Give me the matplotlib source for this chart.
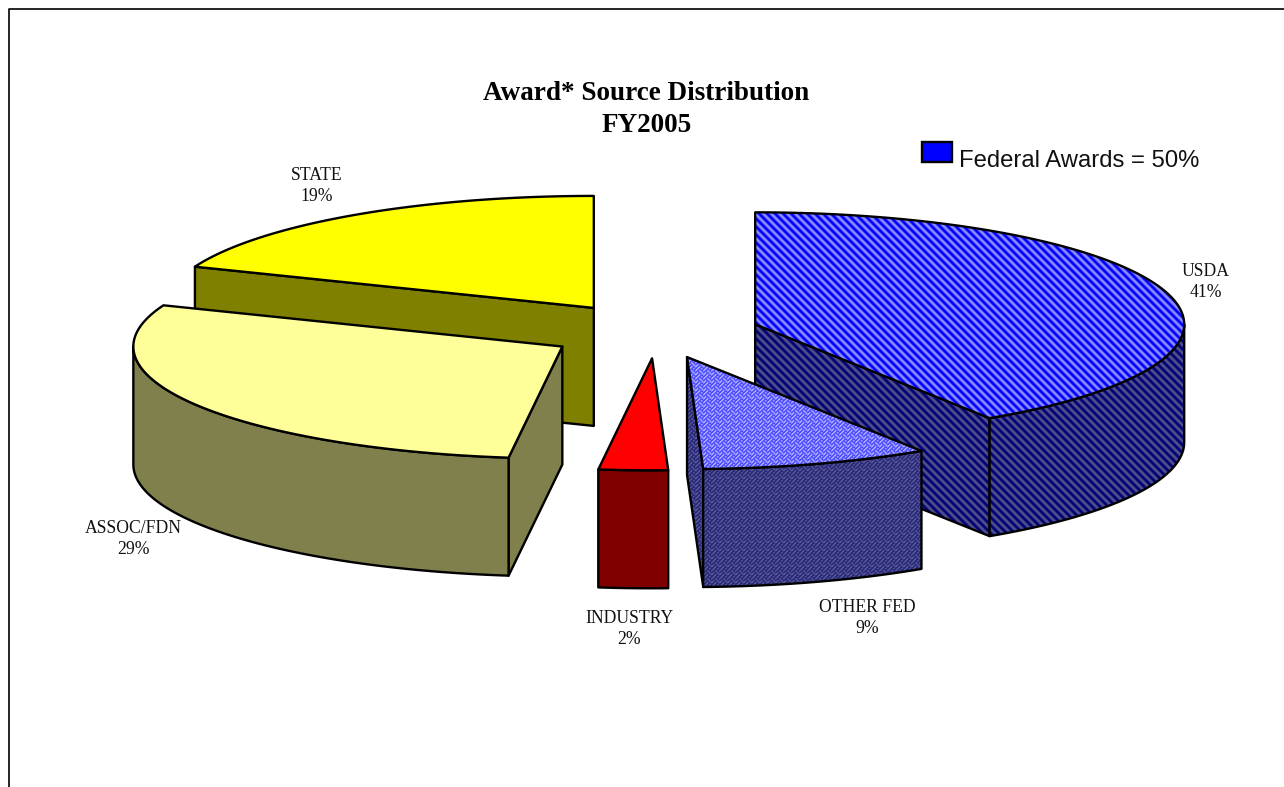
import numpy as np
import matplotlib
matplotlib.use("Agg")
import matplotlib.pyplot as plt
from matplotlib.patches import Polygon, Rectangle

# ---- data ----
categories = ["USDA", "OTHER FED", "INDUSTRY", "ASSOC/FDN", "STATE"]
shares = [40.8, 8.6, 2.6, 29.0, 19.0]
percent_labels = [41, 9, 2, 29, 19]
title_lines = ["Award* Source Distribution", "FY2005"]
legend_text = "Federal Awards = 50%"

# ---- geometry / style ----
W, H = 1284, 787
CX, CY, RX, RY, DEPTH = 656.5, 332.0, 429.0, 112.0, 118.0
EXPLODE = [0.24, 0.235, 0.235, 0.255, 0.26]
LW = 1.7
DRAW_ORDER = [4, 3, 0, 1, 2]
LABEL_XY = [(1206, 282), (867, 618), (629, 629), (133, 539), (317, 186)]
BIT_WEAVE = [0x11, 0x2a, 0x44, 0xa2, 0x11, 0x28, 0x44, 0x8a]


def stripe_mask():
    yy, xx = np.mgrid[0:H, 0:W]
    return ((xx - yy) % 8) < 4


def weave_mask():
    rows = np.array([[(b >> (7 - i)) & 1 for i in range(8)] for b in BIT_WEAVE], bool)
    return np.tile(rows, (H // 8 + 1, W // 8 + 1))[:H, :W]


def texture(mask, fg, bg):
    img = np.zeros((H, W, 3))
    img[mask] = np.array(fg) / 255
    img[~mask] = np.array(bg) / 255
    # the source image is slightly soft: light neighbour averaging
    soft = (2 * img + np.roll(img, 1, 0) + np.roll(img, 1, 1)) / 4
    return soft


STRIPE, WEAVE = stripe_mask(), weave_mask()
FILL = {
    "USDA": (texture(STRIPE, (0, 0, 255), (140, 140, 255)),
             texture(STRIPE, (0, 0, 115), (80, 80, 140))),
    "OTHER FED": (texture(WEAVE, (0, 0, 255), (165, 165, 255)),
                  texture(WEAVE, (0, 0, 115), (85, 85, 140))),
    "INDUSTRY": ("#ff0000", "#800000"),
    "ASSOC/FDN": ("#ffff99", "#80804d"),
    "STATE": ("#ffff00", "#808000"),
}

fig = plt.figure(figsize=(W / 100, H / 100), dpi=100, facecolor="white")
ax = fig.add_axes([0, 0, 1, 1])
ax.set_xlim(0, W)
ax.set_ylim(H, 0)
ax.axis("off")

z = [10]


def face(points, fill):
    z[0] += 1
    if isinstance(fill, str):
        ax.add_patch(Polygon(points, closed=True, facecolor=fill, edgecolor="black",
                             linewidth=LW, joinstyle="round", zorder=z[0]))
    else:
        clip = Polygon(points, closed=True, facecolor="none", edgecolor="none",
                       transform=ax.transData)
        ax.add_patch(clip)
        im = ax.imshow(fill, extent=(0, W, H, 0), interpolation="nearest",
                       aspect="auto", zorder=z[0])
        im.set_clip_path(clip)
        z[0] += 1
        ax.add_patch(Polygon(points, closed=True, facecolor="none", edgecolor="black",
                             linewidth=LW, joinstyle="round", zorder=z[0]))


def ell(theta, ax0, ay0):
    return ax0 + RX * np.sin(theta), ay0 - RY * np.cos(theta)


edges = np.radians(np.concatenate([[0], np.cumsum(shares)]) * 3.6)
for i in DRAW_ORDER:
    name = categories[i]
    t0, t1 = edges[i], edges[i + 1]
    mid = (t0 + t1) / 2
    px, py = CX + EXPLODE[i] * RX * np.sin(mid), CY - EXPLODE[i] * RY * np.cos(mid)
    top_fill, side_fill = FILL[name]
    # radial walls facing the viewer
    if np.sin(t0) < -1e-6:
        ex, ey = ell(t0, px, py)
        face([(px, py), (ex, ey), (ex, ey + DEPTH), (px, py + DEPTH)], side_fill)
    if np.sin(t1) > 1e-6:
        ex, ey = ell(t1, px, py)
        face([(px, py), (ex, ey), (ex, ey + DEPTH), (px, py + DEPTH)], side_fill)
    # outer wall, front half only
    a0, a1 = max(t0, np.pi / 2), min(t1, 3 * np.pi / 2)
    if a1 > a0:
        tt = np.linspace(a0, a1, 80)
        xs, ys = ell(tt, px, py)
        pts = list(zip(xs, ys)) + list(zip(xs[::-1], ys[::-1] + DEPTH))
        face(pts, side_fill)
    # top
    tt = np.linspace(t0, t1, 160)
    xs, ys = ell(tt, px, py)
    face([(px, py)] + list(zip(xs, ys)), top_fill)

# labels
for name, pct, (lx, ly) in zip(categories, percent_labels, LABEL_XY):
    ax.text(lx, ly, f"{name}\n{pct}%", ha="center", va="center", fontsize=12.7,
            family="Liberation Serif", linespacing=1.36, color="#111111", zorder=100)

ax.text(646.5, 94, title_lines[0], ha="center", va="center", fontsize=19.5,
        family="Liberation Serif", weight="bold", zorder=100)
ax.text(646.5, 125, title_lines[1], ha="center", va="center", fontsize=19.5,
        family="Liberation Serif", weight="bold", zorder=100)

# legend
ax.add_patch(Rectangle((922, 142), 29.5, 19.5, facecolor="#0000ff", edgecolor="black",
                       linewidth=LW, zorder=100))
ax.text(959, 167, legend_text, ha="left", va="baseline", fontsize=17.2,
        family="Liberation Sans", color="#111111", zorder=100)

# frame (open at bottom and right)
ax.plot([8.5, 8.5, W], [H, 9, 9], color="black", lw=1.2, zorder=101, clip_on=False)

fig.savefig("out.png", dpi=100)
